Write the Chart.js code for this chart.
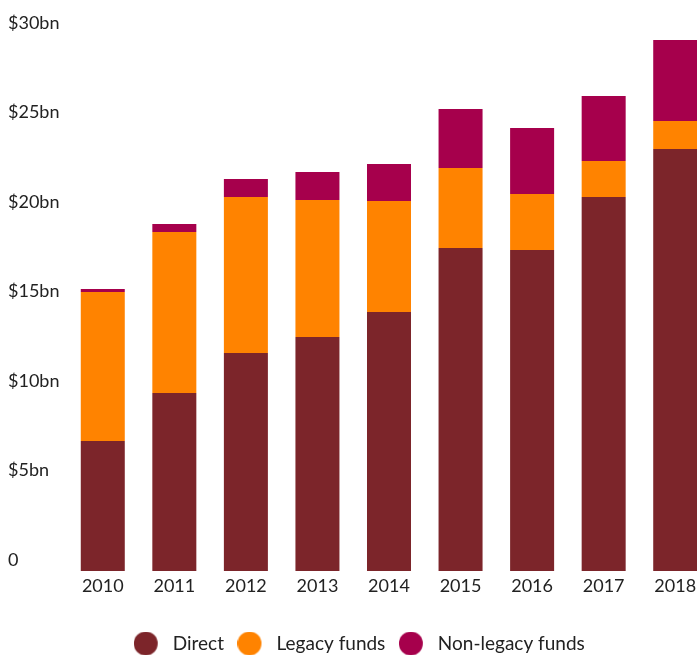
<!DOCTYPE html>
<html>
<head>
<meta charset="utf-8">
<script src="https://cdn.jsdelivr.net/npm/chart.js@4/dist/chart.umd.min.js"></script>
<style>
  html, body { margin: 0; padding: 0; background: #fff; overflow: hidden; }
  #wrap { width: 697px; height: 655px; overflow: hidden; }
</style>
</head>
<body>
<div id="wrap"><canvas id="myChart" width="711" height="663"></canvas></div>
<script>
const years = ["2010", "2011", "2012", "2013", "2014", "2015", "2016", "2017", "2018"];
// $bn per year
const direct = [7.26, 9.94, 12.18, 13.07, 14.47, 18.04, 17.93, 20.89, 23.58];
const legacyFunds = [8.33, 9.0, 8.71, 7.66, 6.2, 4.47, 3.13, 2.01, 1.56];
const nonLegacyFunds = [0.17, 0.45, 1.01, 1.56, 2.07, 3.3, 3.69, 3.63, 4.52];

const colorMap = {
  direct: "#7c252a",
  legacy: "#ff8300",
  nonLegacy: "#a6004c",
};

const textColor = "#222";
const fontFamily = "Lato, 'Open Sans', sans-serif";

// legend marker: dot on the left, blank space on the right for the gap before the text
function makeDot(color) {
  const c = document.createElement("canvas");
  c.width = 30;
  c.height = 24;
  const g = c.getContext("2d");
  g.fillStyle = color;
  g.beginPath();
  g.arc(12, 12, 12, 0, Math.PI * 2);
  g.fill();
  return c;
}

const dots = [makeDot(colorMap.direct), makeDot(colorMap.legacy), makeDot(colorMap.nonLegacy)];

const ctx = document.getElementById("myChart").getContext("2d");
const myChart = new Chart(ctx, {
  type: "bar",
  data: {
    labels: years,
    datasets: [
      { label: "Direct", data: direct, backgroundColor: colorMap.direct },
      { label: "Legacy funds", data: legacyFunds, backgroundColor: colorMap.legacy },
      { label: "Non-legacy funds", data: nonLegacyFunds, backgroundColor: colorMap.nonLegacy },
    ],
  },
  options: {
    responsive: false,
    animation: false,
    layout: { padding: { top: 34, left: 8, right: 0, bottom: 0 } },
    datasets: {
      bar: { categoryPercentage: 1, barPercentage: 0.615, borderWidth: 0 },
    },
    plugins: {
      tooltip: { enabled: false },
      legend: {
        position: "bottom",
        labels: {
          usePointStyle: true,
          pointStyleWidth: 29,
          padding: 14,
          color: textColor,
          font: { family: fontFamily, size: 19 },
          generateLabels: (chart) => {
            const items = Chart.defaults.plugins.legend.labels.generateLabels(chart);
            items.forEach((item, i) => {
              item.pointStyle = dots[i];
            });
            return items;
          },
        },
      },
    },
    scales: {
      x: {
        stacked: true,
        grid: { display: false },
        border: { display: false },
        ticks: {
          color: textColor,
          font: { family: fontFamily, size: 18 },
          padding: -4,
          maxRotation: 0,
        },
        afterFit: (scale) => {
          scale.height = 49;
        },
      },
      y: {
        stacked: true,
        min: 0,
        max: 30,
        grid: { display: false },
        border: { display: false },
        ticks: {
          stepSize: 5,
          crossAlign: "far",
          labelOffset: -11,
          color: textColor,
          font: { family: fontFamily, size: 18 },
          callback: (value) => (value === 0 ? "0" : "$" + value + "bn"),
        },
        afterFit: (scale) => {
          scale.width = 59;
        },
      },
    },
  },
});
</script>
</body>
</html>
